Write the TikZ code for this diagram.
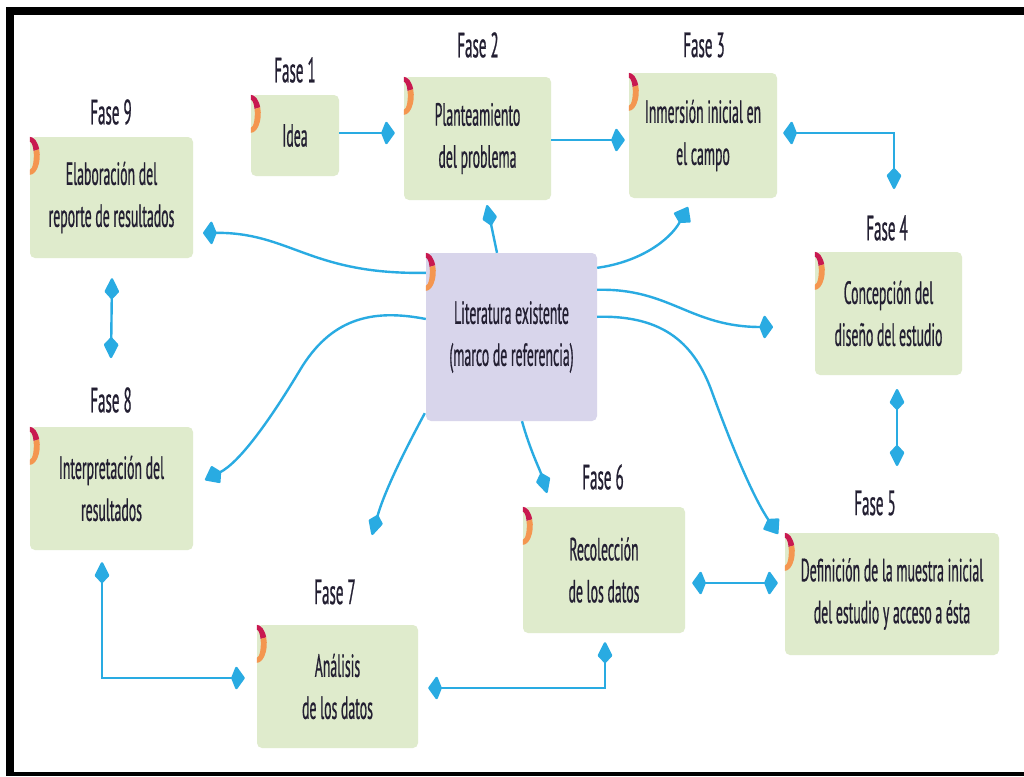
\documentclass[tikz,border=0pt]{standalone}
\usepackage{fontspec}
\setmainfont{PT Sans}[FakeStretch=0.43,FakeBold=0.6]
\usetikzlibrary{arrows.meta,calc}
\definecolor{boxgreen}{RGB}{223,235,204}
\definecolor{litlav}{RGB}{216,213,235}
\definecolor{arrowblue}{RGB}{41,171,226}
\definecolor{crim}{RGB}{200,25,80}
\definecolor{orng}{RGB}{244,150,80}
\definecolor{txt}{RGB}{35,31,50}
\begin{document}
\begin{tikzpicture}[x=1pt,y=-1pt,
  phase/.style={fill=boxgreen, rounded corners=5pt, inner sep=0pt, align=center, text=txt,
    font=\fontsize{32}{42}\selectfont},
  lbl/.style={text=txt, inner sep=0pt, font=\fontsize{35}{40}\selectfont},
  tiph/.tip={Kite[length=14pt,width=25pt,inset=5pt,round]},
  tipv/.tip={Kite[length=23pt,width=15pt,inset=8pt,round]},
  tipd/.tip={Kite[length=19pt,width=20pt,inset=6pt,round]},
  conn/.style={draw=arrowblue, line width=2.4pt},
  cornermark/.pic={
    \begin{scope}[shift={(0,19)}]
      \fill[crim] (-90:10 and 19) arc[start angle=-90,end angle=-20,x radius=10,y radius=19]
        -- (-20:4 and 14) arc[start angle=-20,end angle=-90,x radius=4,y radius=14] -- cycle;
      \fill[orng] (-20:10 and 19) arc[start angle=-20,end angle=90,x radius=10,y radius=19]
        -- (90:4 and 14) arc[start angle=90,end angle=-20,x radius=4,y radius=14] -- cycle;
    \end{scope}
  }]
\useasboundingbox (0,0) rectangle (1024,776);
\fill[white] (0,0) rectangle (1024,776);
% frame
\fill[black] (6,7) rectangle (14,776);
\fill[black] (6,7) rectangle (1024,15);
\fill[black] (6,772) rectangle (1024,776);

% boxes
\node[phase, minimum width=88pt, minimum height=81pt] (f1) at (295,135.5) {Idea};
\node[phase, minimum width=147pt, minimum height=123pt] (f2) at (477.5,138.5) {Planteamiento\\del problema};
\node[phase, minimum width=148pt, minimum height=125pt] (f3) at (703,135.5) {Inmersión inicial en\\el campo};
\node[phase, minimum width=147pt, minimum height=123pt] (f4) at (888.5,313.5) {Concepción del\\diseño del estudio};
\node[phase, minimum width=214pt, minimum height=122pt] (f5) at (892,594) {Definición de la muestra inicial\\del estudio y acceso a ésta};
\node[phase, minimum width=162pt, minimum height=126pt] (f6) at (604,570) {Recolección\\de los datos};
\node[phase, minimum width=161pt, minimum height=123pt] (f7) at (337.5,686.5) {Análisis\\de los datos};
\node[phase, minimum width=163pt, minimum height=123pt] (f8) at (111.5,488.5) {Interpretación del\\resultados};
\node[phase, minimum width=163pt, minimum height=121pt] (f9) at (111.5,197.5) {Elaboración del\\reporte de resultados};
\node[phase, fill=litlav, minimum width=171pt, minimum height=168pt] (lit) at (511.5,337) {Literatura existente\\(marco de referencia)};

\foreach \n in {f1,f2,f3,f4,f5,f6,f7,f8,f9,lit} { \pic at (\n.north west) {cornermark}; }

% labels
\node[lbl] (l1) at (295,70) {Fase 1};
\node[lbl] (l2) at (478,45) {Fase 2};
\node[lbl] (l3) at (704,45) {Fase 3};
\node[lbl] (l4) at (887,228) {Fase 4};
\node[lbl] (l5) at (875,503) {Fase 5};
\node[lbl] (l6) at (603,477) {Fase 6};
\node[lbl] (l7) at (335,592) {Fase 7};
\node[lbl] (l8) at (111,400) {Fase 8};
\node[lbl] (l9) at (111,112) {Fase 9};

% free-end coordinates
\coordinate (k34) at (894,133);
\coordinate (e4) at (894,189);
\coordinate (t45a) at (897,389);
\coordinate (t45b) at (897,466);
\coordinate (k67) at (605,688);
\coordinate (k78) at (102,678);
\coordinate (e9) at (203,233);
\coordinate (e8) at (205,480);
\coordinate (e7) at (372,535);
\coordinate (e2) at (487,205);
\coordinate (e3) at (688,207);
\coordinate (e4b) at (773,327);
\coordinate (e5) at (778,534);
\coordinate (e6) at (547,493);

% straight connectors
\draw[conn, -tiph] (f1.east |- 0,133) -- ($(f2.west |- 0,133)+(-9,0)$);
\draw[conn, -tiph] (f2.east |- 0,140) -- ($(f3.west |- 0,140)+(-4,0)$);
\draw[conn, tiph-tipv] ($(f3.east |- k34)+(6,0)$) -- (k34) -- (e4);
\draw[conn, tipv-tipv] (t45a) -- (t45b);
\draw[conn, tiph-tiph] ($(f6.east |- 0,583)+(7,0)$) -- ($(f5.west |- 0,583)+(-7,0)$);
\draw[conn, tipv-tiph] ($(f6.south)+(1,9)$) -- (k67) -- ($(f7.east |- k67)+(10,0)$);
\draw[conn, tipv-tiph] ($(f8.south -| k78)+(0,12)$) -- (k78) -- ($(f7.west |- k78)+(-12,0)$);
\draw[conn, tipv-tipv] ($(f9.south)+(0.5,20)$) -- ($(l8.north)+(0,-29)$);

% curved connectors from the literature
\draw[conn, -tiph] ($(lit.north west)+(0,20)$) .. controls (310,275) and (290,232) .. (e9);
\draw[conn, -tipd] ($(lit.west)+(0,-18)$) .. controls (370,308) and (330,320) .. (300,370)
   .. controls (270,420) and (240,462) .. (e8);
\draw[conn, -tipv] ($(lit.south west)+(-1,-8)$) .. controls (405,450) and (385,490) .. (e7);
\draw[conn, -tipv] (lit.north -| 497,0) -- (e2);
\draw[conn, -tipd] ($(lit.north east)+(0,15)$) .. controls (640,262) and (670,240) .. (e3);
\draw[conn, -tiph] ($(lit.north east)+(0,37)$) .. controls (670,288) and (690,327) .. (e4b);
\draw[conn, -tipd] ($(lit.north east)+(0,64)$) .. controls (665,315) and (695,345) .. (712,392)
   .. controls (735,455) and (755,500) .. (e5);
\draw[conn, -tipv] (lit.south -| 522,0) .. controls (530,450) and (540,470) .. (e6);
\end{tikzpicture}
\end{document}
